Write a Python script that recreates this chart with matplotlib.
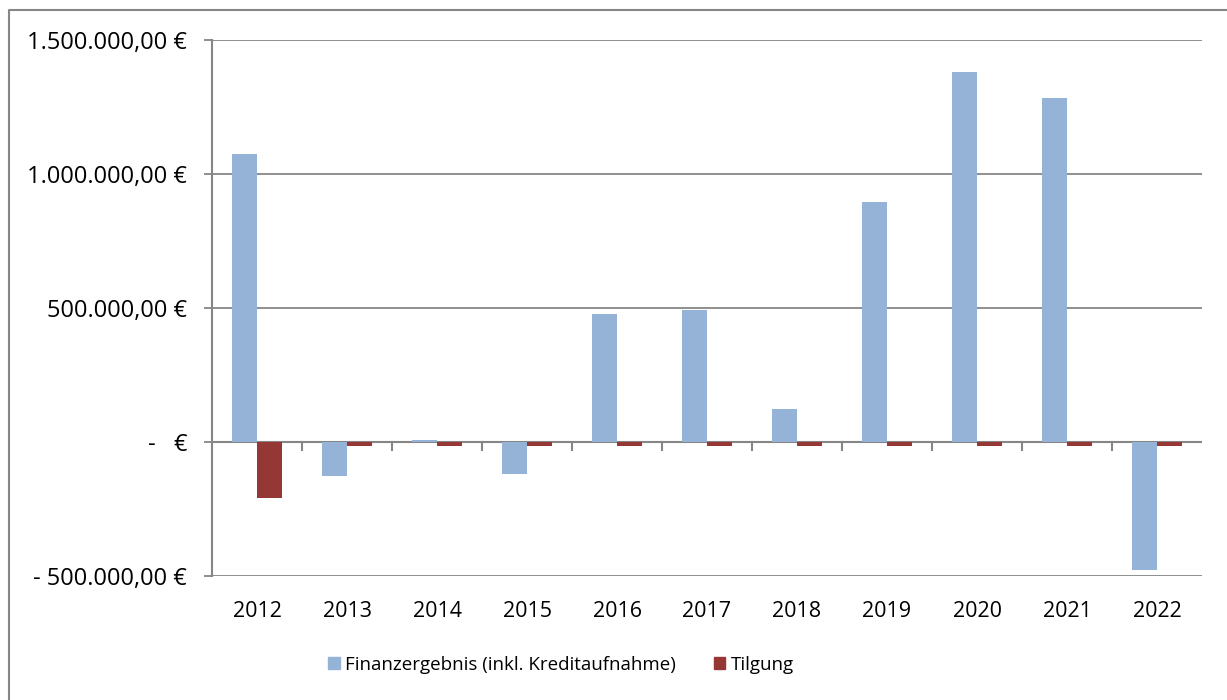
import numpy as np
import matplotlib.pyplot as plt
from matplotlib.lines import Line2D
from matplotlib.patches import Patch

# data
years = ['2012', '2013', '2014', '2015', '2016', '2017', '2018', '2019', '2020', '2021', '2022']
finanzergebnis = [1075000, -127000, 7000, -119000, 478000, 493000, 123000, 896000, 1381000, 1284000, -478000]
tilgung = [-209000, -15000, -15000, -16000, -15000, -15000, -16000, -16000, -16000, -16000, -16000]
y_ticks = [-500000, 0, 500000, 1000000, 1500000]
y_labels = ['- 500.000,00 €', '-   €', '500.000,00 €', '1.000.000,00 €', '1.500.000,00 €']

blue = '#95B3D7'
red = '#953735'
grey = '#868686'

plt.rcParams['font.family'] = ['Open Sans', 'DejaVu Sans']

fig = plt.figure(figsize=(12.27, 7), dpi=100)
ax = fig.add_axes([212 / 1227, 124 / 700, 990 / 1227, 536 / 700])

x = np.arange(len(years))
w = 0.28
ax.bar(x - w / 2, finanzergebnis, w, color=blue, zorder=3,
       label='Finanzergebnis (inkl. Kreditaufnahme)')
ax.bar(x + w / 2, tilgung, w, color=red, zorder=3, label='Tilgung')

ax.set_xlim(-0.5, len(years) - 0.5)
ax.set_ylim(-500000, 1500000)
ax.set_yticks(y_ticks)
ax.set_yticklabels(y_labels)
ax.yaxis.grid(True, color=grey, linewidth=1.3, zorder=0)
ax.set_axisbelow(True)

# zero axis line with category boundary ticks
ax.axhline(0, color=grey, linewidth=1.5, zorder=2)
for b in np.arange(0.5, len(years) - 0.5, 1):
    ax.plot([b, b], [0, -30000], color=grey, linewidth=1.5, zorder=2)

ax.set_xticks(x)
ax.set_xticklabels(years)
ax.tick_params(axis='x', length=0, pad=18, labelsize=15.5)
ax.tick_params(axis='y', length=6, color=grey, width=1.3, pad=12, labelsize=17)

for s in ['top', 'right', 'bottom']:
    ax.spines[s].set_visible(False)
ax.spines['left'].set_color(grey)
ax.spines['left'].set_linewidth(1.5)

fig.legend(handles=[Patch(color=blue, label='Finanzergebnis (inkl. Kreditaufnahme)'),
                    Patch(color=red, label='Tilgung')],
           loc='center', bbox_to_anchor=(561 / 1227, 35 / 700), ncol=2, frameon=False,
           fontsize=13.5, handlelength=0.6, handleheight=0.6, handletextpad=0.3, columnspacing=2.0)

# outer chart border (top and left edges visible)
fig.add_artist(Line2D([8.5 / 1227, 8.5 / 1227, 1], [0, 690 / 700, 690 / 700], transform=fig.transFigure,
                      color=grey, linewidth=1.5))

fig.savefig('out.png', dpi=100)
